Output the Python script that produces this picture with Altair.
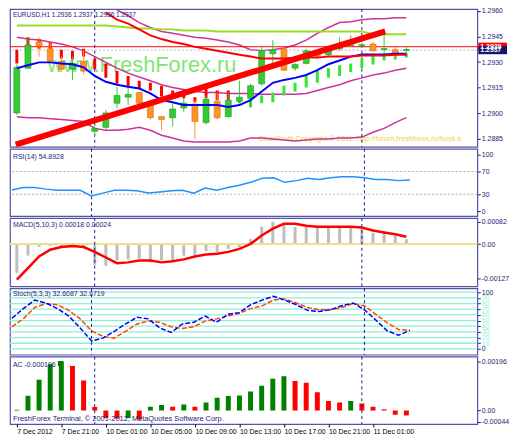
import numpy as np
import pandas as pd
import altair as alt

# ---------------- data ----------------
bars = list(range(36))
open_ = [1.29001, 1.29264, 1.29418, 1.29378, 1.29304, 1.29258, 1.29304, 1.28893, 1.28916, 1.29058,
         1.29093, 1.29121, 1.29047, 1.28979, 1.28973, 1.29030, 1.29053, 1.28944, 1.29070, 1.28979,
         1.29070, 1.29087, 1.29172, 1.29349, 1.29378, 1.29264, 1.29292, 1.29349, 1.29343, 1.29378,
         1.29398, 1.29398, 1.29406, 1.29375, 1.29372, 1.29370]
high = [1.29286, 1.29446, 1.29446, 1.29418, 1.29332, 1.29332, 1.29372, 1.28933, 1.29019, 1.29155,
        1.29150, 1.29127, 1.29064, 1.28984, 1.29058, 1.29087, 1.29076, 1.29104, 1.29121, 1.29121,
        1.29190, 1.29172, 1.29389, 1.29429, 1.29389, 1.29292, 1.29378, 1.29361, 1.29389, 1.29446,
        1.29457, 1.29412, 1.29418, 1.29475, 1.29389, 1.29389]
low = [1.28990, 1.29258, 1.29332, 1.29292, 1.29241, 1.29195, 1.29229, 1.28865, 1.28905, 1.29030,
       1.29047, 1.29019, 1.28962, 1.28899, 1.28922, 1.29007, 1.28847, 1.28933, 1.28962, 1.28973,
       1.29058, 1.29030, 1.29161, 1.29292, 1.29247, 1.29247, 1.29286, 1.29321, 1.29332, 1.29366,
       1.29389, 1.29383, 1.29361, 1.29332, 1.29321, 1.29332]
close = [1.29269, 1.29400, 1.29395, 1.29304, 1.29258, 1.29292, 1.29247, 1.28910, 1.29001, 1.29104,
         1.29110, 1.29058, 1.28973, 1.28962, 1.29024, 1.29058, 1.28950, 1.29081, 1.28973, 1.29076,
         1.29093, 1.29161, 1.29366, 1.29372, 1.29252, 1.29286, 1.29366, 1.29332, 1.29372, 1.29406,
         1.29400, 1.29400, 1.29366, 1.29378, 1.29349, 1.29372]
ma_blue = [1.29264, 1.29281, 1.29298, 1.29298, 1.29292, 1.29287, 1.29269, 1.29218, 1.29184, 1.29167,
           1.29155, 1.29144, 1.29116, 1.29076, 1.29064, 1.29047, 1.29047, 1.29047, 1.29047, 1.29036,
           1.29047, 1.29076, 1.29127, 1.29178, 1.29195, 1.29207, 1.29224, 1.29252, 1.29287, 1.29309,
           1.29332, 1.29344, 1.29344, 1.29344, 1.29349, 1.29349]
signal_top = [1.29372, 1.29446, 1.29435, 1.29418, 1.29372, 1.29366, 1.29378, 1.29321, 1.29292, 1.29247,
              1.29218, 1.29190, 1.29178, 1.29161, 1.29133, 1.29133, 1.29093, 1.29161, 1.29133, 1.29133,
              1.29087, 1.29093, 1.29104, 1.29121, 1.29161, 1.29178, 1.29218, 1.29247, 1.29264, 1.29281,
              1.29292, 1.29321, 1.29343, 1.29343, 1.29343, 1.29349]
signal_bot = [1.29292, 1.29389, 1.29378, 1.29361, 1.29321, 1.29315, 1.29332, 1.29258, 1.29207, 1.29172,
              1.29150, 1.29144, 1.29133, 1.29098, 1.29093, 1.29087, 1.29064, 1.29087, 1.29076, 1.29076,
              1.29058, 1.29036, 1.29058, 1.29064, 1.29104, 1.29127, 1.29150, 1.29178, 1.29207, 1.29218,
              1.29241, 1.29264, 1.29286, 1.29309, 1.29315, 1.29326]
signal_up = [0, 0, 0, 0, 0, 0, 0, 0, 0, 0, 0, 0, 0, 0, 0, 0, 0, 0, 0, 0,
             1, 1, 1, 1, 1, 1, 1, 1, 1, 1, 1, 1, 1, 1, 1, 1]
band_mid = [1.29446, 1.29435, 1.29429, 1.29418, 1.29406, 1.29389, 1.29366, 1.29332, 1.29298, 1.29264,
            1.29235, 1.29212, 1.29190, 1.29167, 1.29150, 1.29138, 1.29127, 1.29121, 1.29121, 1.29115,
            1.29115, 1.29115, 1.29110, 1.29110, 1.29110, 1.29110, 1.29115, 1.29133, 1.29150, 1.29167,
            1.29190, 1.29207, 1.29224, 1.29235, 1.29252, 1.29264]
band_low = [1.28979, 1.28973, 1.28973, 1.28967, 1.28962, 1.28956, 1.28950, 1.28910, 1.28899, 1.28899,
            1.28905, 1.28916, 1.28899, 1.28870, 1.28853, 1.28836, 1.28830, 1.28830, 1.28830, 1.28830,
            1.28836, 1.28853, 1.28853, 1.28847, 1.28842, 1.28836, 1.28842, 1.28847, 1.28847, 1.28853,
            1.28853, 1.28859, 1.28887, 1.28910, 1.28944, 1.28973]
lime_line = [1.29515, 1.29515, 1.29515, 1.29515, 1.29515, 1.29515, 1.29515, 1.29515, 1.29515, 1.29509,
             1.29503, 1.29497, 1.29497, 1.29492, 1.29492, 1.29486, 1.29486, 1.29486, 1.29480, 1.29480,
             1.29480, 1.29480, 1.29480, 1.29480, 1.29480, 1.29480, 1.29480, 1.29480, 1.29480, 1.29480,
             1.29480, 1.29480, 1.29463, 1.29463, 1.29463, 1.29463]
upper_bars = list(range(9, 36))
band_up = [1.29606, 1.29572, 1.29532, 1.29503, 1.29480, 1.29469, 1.29457, 1.29446, 1.29440,
           1.29429, 1.29418, 1.29400, 1.29372, 1.29366, 1.29372, 1.29383, 1.29400, 1.29429, 1.29469,
           1.29503, 1.29532, 1.29537, 1.29549, 1.29554, 1.29554, 1.29560, 1.29560]
curve_bars = list(range(8, 36))
red_curve = [1.29590, 1.29549, 1.29526, 1.29492, 1.29457, 1.29435, 1.29418, 1.29406, 1.29389,
             1.29378, 1.29366, 1.29355, 1.29343, 1.29332, 1.29321, 1.29321, 1.29321, 1.29326, 1.29326,
             1.29326, 1.29332, 1.29332, 1.29332, 1.29338, 1.29338, 1.29338, 1.29343, 1.29343]
trend_bars = [-0.1, 33.1]
trend_prices = [1.28815, 1.29480]
bid_price = [1.2939]
last_price = [1.2937]

rsi = [37.3, 42, 42, 39, 37, 37, 37, 27, 32, 37, 37, 36, 32, 34, 36, 37, 32, 41, 37, 42,
       46, 51, 58, 59, 51, 54, 58, 56, 59, 61, 61, 59, 56, 56, 54, 54.9]
rsi_levels = [30, 70]
macd_hist = [-0.00107, -0.00043, -0.00010, -0.00007, -0.00010, -0.00008, -0.00010, -0.00077, -0.00081, -0.00060,
             -0.00057, -0.00055, -0.00068, -0.00060, -0.00060, -0.00043, -0.00043, -0.00027, -0.00030, -0.00018,
             -0.00012, 0.00018, 0.00064, 0.00083, 0.00075, 0.00063, 0.00063, 0.00063, 0.00063, 0.00063,
             0.00063, 0.00063, 0.00042, 0.00042, 0.00030, 0.00018]
macd_signal = [-0.00132, -0.00089, -0.00046, -0.00021, -0.00011, -0.00007, -0.00011, -0.00029, -0.00050, -0.00071,
               -0.00068, -0.00061, -0.00061, -0.00068, -0.00064, -0.00057, -0.00046, -0.00039, -0.00036, -0.00029,
               -0.00018, 0.00000, 0.00032, 0.00057, 0.00075, 0.00075, 0.00068, 0.00064, 0.00064, 0.00064,
               0.00064, 0.00061, 0.00050, 0.00043, 0.00036, 0.00027]
stoch_k = [54, 71, 86, 81, 71, 58, 37, 14, 19, 31, 44, 56, 53, 37, 29, 44, 47, 58, 47, 61,
           64, 78, 86, 93, 86, 78, 68, 66, 69, 76, 81, 69, 51, 32, 24, 32.6]
stoch_d = [39, 53, 73, 80, 78, 68, 53, 32, 22, 19, 31, 44, 49, 47, 39, 36, 39, 49, 53, 58,
           63, 71, 76, 86, 88, 81, 73, 69, 69, 73, 80, 76, 61, 46, 34, 32.7]
stoch_levels = [0, 10, 20, 30, 40, 50, 60, 70, 80, 90, 100]
ac = [0.00003, 0.00059, 0.00123, 0.00185, 0.00196, 0.00178, 0.00120, 0.00014, -0.00030, -0.00032,
      -0.00030, -0.00036, 0.00015, 0.00022, 0.00015, 0.00024, 0.00015, 0.00032, 0.00051, 0.00058,
      0.00060, 0.00076, 0.00099, 0.00127, 0.00137, 0.00118, 0.00111, 0.00073, 0.00038, 0.00032,
      0.00038, 0.00028, 0.00015, 0.00005, -0.00017, -0.000196]

day_breaks = [7, 31]
x_tick_bars = [0, 4, 8, 12, 16, 20, 24, 28, 32]
x_tick_labels = ["7 Dec 2012", "7 Dec 21:00", "10 Dec 01:00", "10 Dec 05:00", "10 Dec 09:00",
                 "10 Dec 13:00", "10 Dec 17:00", "10 Dec 21:00", "11 Dec 01:00"]
price_ticks = [1.2885, 1.2900, 1.2915, 1.2930, 1.2945, 1.2960]
rsi_ticks = [0, 30, 70, 100]
macd_ticks = [-0.00127, 0.0, 0.00082]
ac_ticks = [-0.00044, 0.0, 0.00196]

title_main = "EURUSD,H1  1.2936 1.2937 1.2936 1.2937"
title_rsi = "RSI(14) 54.8928"
title_macd = "MACD(5,10,3) 0.00018 0.00024"
title_stoch = "Stoch(5,3,3) 32.6087 32.6719"
title_ac = "AC -0.000196"
watermark = "www.FreshForex.ru"
copyright_ea = "ClearProfit Copyright \u00a9 2011, http://forum.freshforex.ru/fund-a"
footer = "FreshForex Terminal, \u00a9 2001-2012, MetaQuotes Software Corp."

# ---------------- styling ----------------
W = 472
H0, H1, H2, H3, H4 = 139, 68, 69, 67, 68
NAVY = "#23237a"
FONT = "Liberation Sans"
GREEN_C = "#33cc33"
ORANGE_C = "#ff9326"

df = pd.DataFrame({"i": bars, "o": open_, "h": high, "l": low, "c": close, "ma": ma_blue,
                   "st": signal_top, "sb": signal_bot, "su": signal_up, "mid": band_mid,
                   "low": band_low, "lime": lime_line, "rsi": rsi, "mh": macd_hist,
                   "ms": macd_signal, "k": stoch_k, "d": stoch_d, "ac": ac})
df["bt"] = df[["o", "c"]].max(axis=1)
df["bb"] = df[["o", "c"]].min(axis=1)
small = (df["bt"] - df["bb"]) < 0.00005
midp = (df["bt"] + df["bb"]) / 2
df.loc[small, "bt"] = midp[small] + 0.000025
df.loc[small, "bb"] = midp[small] - 0.000025
df["ccol"] = np.where(df["c"] >= df["o"], GREEN_C, ORANGE_C)
df["cstroke"] = np.where(df["c"] >= df["o"], "#1f9a1f", "#d9700a")
df["scol"] = np.where(df["su"] == 1, "#33e633", "#ff0000")
acd = df["ac"].diff().fillna(1)
df["acol"] = np.where(acd > 0, "#008000", "#ff0000")
df["zero"] = 0.0

df_up = pd.DataFrame({"i": upper_bars, "p": band_up})
df_red = pd.DataFrame({"i": curve_bars, "p": red_curve})
df_tr = pd.DataFrame({"i": trend_bars, "p": trend_prices})
df_sep = pd.DataFrame({"i": day_breaks})
tags = pd.DataFrame({"p": bid_price + last_price, "bg": ["#ff0000", "#14146e"],
                     "t": [f"{v:.4f}" for v in bid_price + last_price]})
tags["top"] = tags["p"] + 0.00024
tags["bot"] = tags["p"] - 0.00024

xs = alt.Scale(domain=[-0.17, 40.93], nice=False, zero=False)


def axis_r(values, expr=None, fmt=None, **kw):
    args = dict(orient="right", values=values, grid=False, domain=False, ticks=True, tickSize=3,
                tickColor=NAVY, labelColor=NAVY, labelFont=FONT, labelFontSize=7, labelPadding=1,
                title=None, labelOverlap=False)
    if expr is not None:
        args["labelExpr"] = expr
    if fmt is not None:
        args["format"] = fmt
    args.update(kw)
    return alt.Axis(**args)


def expr_from(values, labels):
    parts = [f"abs(datum.value - ({v})) < 1e-9 ? '{t}'" for v, t in zip(values, labels)]
    return " : ".join(parts) + " : ''"


def label(txt, x, y, size=7.0, color=NAVY, font=FONT, **kw):
    return alt.Chart(pd.DataFrame({"t": [txt]})).mark_text(
        align="left", baseline="alphabetic", fontSize=size, color=color, font=font, **kw
    ).encode(text="t:N", x=alt.value(x), y=alt.value(y))


x_axis_bottom = alt.Axis(values=x_tick_bars, labelExpr=expr_from(x_tick_bars, x_tick_labels),
                         labelAlign="left", tickSize=3, labelPadding=1, domain=False, grid=False,
                         title=None, labelFontSize=7, labelFont=FONT, labelColor="black",
                         tickColor="black", labelFlush=False, labelOverlap=False)


def XX(bottom=False):
    return alt.X("i:Q", scale=xs, axis=x_axis_bottom if bottom else None)


def seps(bottom=False):
    return alt.Chart(df_sep).mark_rule(color="#1a1a8a", strokeDash=[3, 3], strokeWidth=1).encode(x=XX(bottom))


# ---------------- main price panel ----------------
ps = alt.Scale(domain=[1.28802, 1.29611], nice=False, zero=False)
pax = axis_r(price_ticks, fmt=".4f")


def PY(f):
    return alt.Y(f"{f}:Q", scale=ps, axis=pax)


X = XX()
base = alt.Chart(df)
main_layers = [
    label(watermark, 38, 63, size=22, color="#66dd55", opacity=0.8),
    label(copyright_ea, 251, 133, size=7.5, color="#f0d23a"),
    base.mark_line(color="#cc3399", strokeWidth=1.5, clip=True).encode(x=X, y=PY("low")),
    base.mark_line(color="#cc3399", strokeWidth=1.5, clip=True).encode(x=X, y=PY("mid")),
    alt.Chart(df_up).mark_line(color="#cc3399", strokeWidth=1.5, clip=True).encode(x=X, y=PY("p")),
    base.mark_line(color="#99dd22", strokeWidth=2, clip=True).encode(x=X, y=PY("lime")),
    alt.Chart(tags.iloc[[0]]).mark_rule(color="#ff0000", strokeWidth=1).encode(y=PY("p")),
    alt.Chart(tags.iloc[[1]]).mark_rule(color="#b8b8b8", strokeWidth=1, strokeDash=[2, 2]).encode(y=PY("p")),
    seps(),
    base.mark_bar(size=3, clip=True).encode(x=X, y=PY("st"), y2="sb:Q",
                                            color=alt.Color("scol:N", scale=None)),
    base.mark_rule(strokeWidth=1, clip=True).encode(x=X, y=PY("l"), y2="h:Q",
                                                    color=alt.Color("ccol:N", scale=None)),
    base.mark_bar(size=6, strokeWidth=0.6, clip=True).encode(
        x=X, y=PY("bt"), y2="bb:Q",
        color=alt.Color("ccol:N", scale=None), stroke=alt.Stroke("cstroke:N", scale=None)),
    base.mark_line(color="#0000ff", strokeWidth=2, clip=True).encode(x=X, y=PY("ma")),
    alt.Chart(df_red).mark_line(color="#ff0000", strokeWidth=2, clip=True).encode(x=X, y=PY("p")),
    alt.Chart(df_tr).mark_line(color="#ff0000", strokeWidth=6, clip=True).encode(x=X, y=PY("p")),
    label(title_main, 3, 8, size=6.5),
    alt.Chart(tags).mark_rect().encode(x=alt.value(W + 1), x2=alt.value(W + 30),
                                       y=PY("top"), y2="bot:Q",
                                       color=alt.Color("bg:N", scale=None)),
    alt.Chart(tags).mark_text(align="left", baseline="middle", fontSize=7, font=FONT, color="white",
                              fontWeight="bold").encode(x=alt.value(W + 3), y=PY("p"), text="t:N"),
]
main = alt.layer(*main_layers).properties(width=W, height=H0)

# ---------------- RSI ----------------
rs = alt.Scale(domain=[-8.5, 110.2], nice=False, zero=False)
rax = axis_r(rsi_ticks)
rsi_panel = alt.layer(
    alt.Chart(pd.DataFrame({"v": rsi_levels})).mark_rule(color="#b0b0b0", strokeDash=[2, 2]).encode(
        y=alt.Y("v:Q", scale=rs, axis=rax)),
    seps(),
    base.mark_line(color="#1e90ff", strokeWidth=1.5).encode(x=X, y=alt.Y("rsi:Q", scale=rs, axis=rax)),
    label(title_rsi, 3, 10),
).properties(width=W, height=H1)

# ---------------- MACD ----------------
ms = alt.Scale(domain=[-0.00157, 0.000964], nice=False, zero=False)
macd_labels = ["0.00" if v == 0 else f"{v:.5f}" for v in macd_ticks]
max_ = axis_r(macd_ticks, expr=expr_from(macd_ticks, macd_labels))
macd_panel = alt.layer(
    base.mark_bar(size=3, color="#bdbdbd").encode(x=X, y=alt.Y("mh:Q", scale=ms, axis=max_), y2="zero:Q"),
    alt.Chart(pd.DataFrame({"v": [0.0]})).mark_rule(color="#efe08a", strokeWidth=2).encode(
        y=alt.Y("v:Q", scale=ms, axis=max_)),
    seps(),
    base.mark_line(color="#ff0000", strokeWidth=2.5).encode(x=X, y=alt.Y("ms:Q", scale=ms, axis=max_)),
    label(title_macd, 3, 9),
).properties(width=W, height=H2)

# ---------------- Stochastic ----------------
ss = alt.Scale(domain=[-10.2, 106.8], nice=False, zero=False)
sax = axis_r(stoch_levels, labelColor={"condition": {"test": "datum.value == 0 || datum.value == 100",
                                                     "value": NAVY}, "value": "#8ef0d2"})
stoch_panel = alt.layer(
    alt.Chart(pd.DataFrame({"v": stoch_levels})).mark_rule(color="#8ef0d2", strokeWidth=1.3).encode(
        y=alt.Y("v:Q", scale=ss, axis=sax)),
    seps(),
    base.mark_line(color="#ff4500", strokeWidth=1.5, strokeDash=[5, 2]).encode(
        x=X, y=alt.Y("d:Q", scale=ss, axis=sax)),
    base.mark_line(color="#0000ff", strokeWidth=1.5, strokeDash=[5, 2]).encode(
        x=X, y=alt.Y("k:Q", scale=ss, axis=sax)),
    label(title_stoch, 3, 8),
).properties(width=W, height=H3)

# ---------------- AC ----------------
acs = alt.Scale(domain=[-0.000538, 0.00215], nice=False, zero=False)
ac_labels = ["0.00" if v == 0 else f"{v:.5f}" for v in ac_ticks]
aax = axis_r(ac_ticks, expr=expr_from(ac_ticks, ac_labels))
ac_panel = alt.layer(
    base.mark_bar(size=5).encode(
        x=XX(True), y=alt.Y("ac:Q", scale=acs, axis=aax),
        y2="zero:Q", color=alt.Color("acol:N", scale=None)),
    seps(True),
    label(title_ac, 3, 10),
    alt.Chart(pd.DataFrame({"t": [title_ac]})).mark_square(size=28, color="#008000", opacity=1).encode(
        x=alt.value(51), y=alt.value(7)),
    label(footer, 3, 65, size=7.5),
).properties(width=W, height=H4)

chart = alt.vconcat(main, rsi_panel, macd_panel, stoch_panel, ac_panel, spacing=2, bounds="flush").resolve_scale(
    x="independent", y="independent"
).properties(
    padding={"left": 0, "top": -4, "right": 0, "bottom": 0}, background="white"
).configure_view(stroke="#5454a8", strokeWidth=1.2)

chart.save("out.html", embed_options={"renderer": "svg", "actions": False})
